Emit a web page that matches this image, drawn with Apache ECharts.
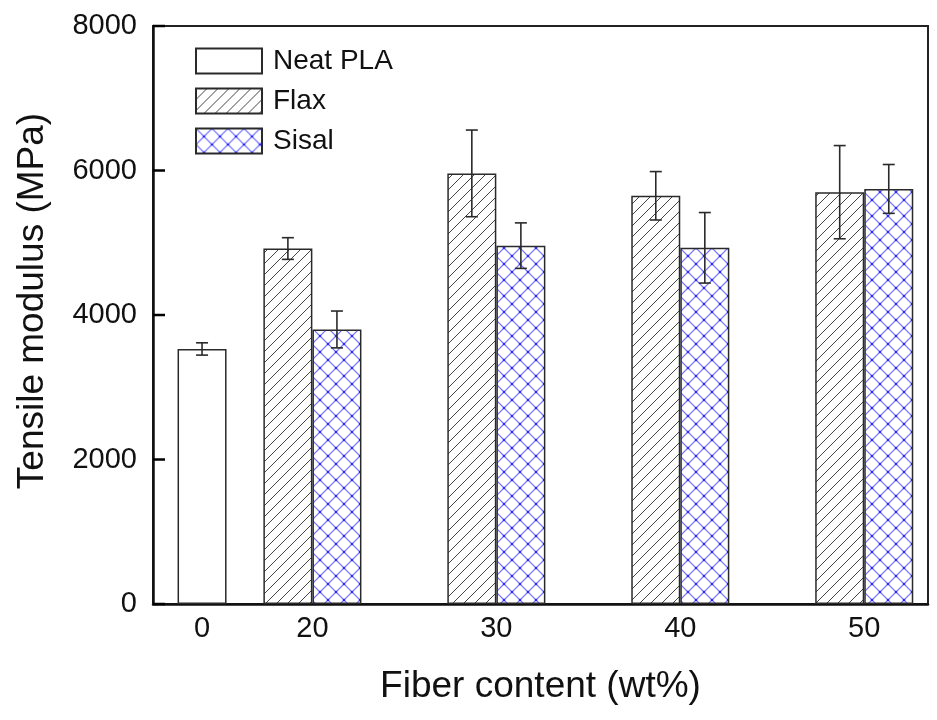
<!DOCTYPE html>
<html>
<head>
<meta charset="utf-8">
<script src="https://cdn.jsdelivr.net/npm/echarts@6/dist/echarts.min.js"></script>
<style>
  html, body { margin: 0; padding: 0; background: #fff; }
  #chart { width: 937px; height: 720px; }
</style>
</head>
<body>
<div id="chart"></div>
<script>
// Tensile modulus (MPa) by fiber content (wt%)
const categories = ['0', '20', '30', '40', '50'];
const neatPLA    = [3530, null, null, null, null];
const neatPLAErr = [85,   null, null, null, null];
const flax       = [null, 4920, 5960, 5650, 5700];
const flaxErr    = [null, 150,  600,  335,  645];
const sisal      = [null, 3800, 4960, 4930, 5745];
const sisalErr   = [null, 255,  315,  488,  338];
const yTicks     = [0, 2000, 4000, 6000, 8000];

// Horizontal layout on a value axis: one unit equals one bar width
const groupCenters = [1, 3.25, 7, 10.75, 14.5];
const xSpan = 15.8;
const FONT = '"Liberation Sans", Arial, Helvetica, sans-serif';

// Repeating fill tiles for the hatched bars
function hatchTile(size, stroke, width, dirs, dot) {
  const c = document.createElement('canvas');
  c.width = c.height = size;
  const g = c.getContext('2d');
  g.fillStyle = '#fff';
  g.fillRect(0, 0, size, size);
  g.strokeStyle = stroke;
  g.lineWidth = width;
  for (const d of dirs) {
    for (let k = -1; k <= 1; k++) {
      g.beginPath();
      if (d === '/') { g.moveTo(k * size, size); g.lineTo(k * size + size, 0); }
      else { g.moveTo(k * size, 0); g.lineTo(k * size + size, size); }
      g.stroke();
    }
  }
  if (dot) {
    g.fillStyle = dot;
    const pts = [[size / 2, size / 2], [0, 0], [size, 0], [0, size], [size, size]];
    for (const [x, y] of pts) { g.beginPath(); g.arc(x, y, 1.3, 0, Math.PI * 2); g.fill(); }
  }
  return { image: c, repeat: 'repeat' };
}
const flaxFill  = hatchTile(11, '#444', 1, ['/']);
const sisalFill = hatchTile(16, 'rgba(70,70,255,0.8)', 1.2, ['/', '\\'], '#2a2aff');

function barData(values, offset) {
  const out = [];
  values.forEach((v, i) => { if (v != null) out.push([groupCenters[i] + offset, v]); });
  return out;
}
function errData(values, errs, offset) {
  const out = [];
  values.forEach((v, i) => {
    if (v != null) out.push([groupCenters[i] + offset, v - errs[i], v + errs[i]]);
  });
  return out;
}

const barStyle = (color) => ({ color: color, borderColor: '#2a2a2a', borderWidth: 1.5 });

const chart = echarts.init(document.getElementById('chart'), null, { renderer: 'canvas' });
chart.setOption({
  animation: false,
  backgroundColor: '#fff',
  grid: {
    left: 153, right: 9, top: 26, bottom: 116,
    show: true, borderColor: '#222', borderWidth: 2, backgroundColor: 'transparent'
  },
  legend: {
    orient: 'vertical',
    left: 195, top: 47,
    itemWidth: 66, itemHeight: 25, itemGap: 12,
    icon: 'rect',
    padding: 0,
    data: ['Neat PLA', 'Flax', 'Sisal'],
    textStyle: { fontSize: 28, color: '#111', fontFamily: FONT, padding: [0, 0, 0, 6] }
  },
  xAxis: {
    type: 'value',
    min: 0, max: xSpan,
    name: 'Fiber content (wt%)',
    nameLocation: 'middle',
    nameGap: 64,
    nameTextStyle: { fontSize: 37, color: '#111', fontFamily: FONT },
    axisLine: { show: true, onZero: false, lineStyle: { color: '#111', width: 2.5 } },
    axisTick: { show: false },
    splitLine: { show: false },
    axisLabel: {
      customValues: groupCenters,
      formatter: (v) => {
        const i = groupCenters.findIndex(c => Math.abs(c - v) < 1e-6);
        return i >= 0 ? categories[i] : '';
      },
      fontSize: 29, color: '#111', fontFamily: FONT, margin: 10
    }
  },
  yAxis: {
    type: 'value',
    min: yTicks[0], max: yTicks[yTicks.length - 1], interval: yTicks[1] - yTicks[0],
    name: 'Tensile modulus (MPa)',
    nameLocation: 'middle',
    nameGap: 102,
    nameTextStyle: { fontSize: 37, color: '#111', fontFamily: FONT, padding: [0, 0, 0, 28] },
    axisLine: { show: true, onZero: false, lineStyle: { color: '#111', width: 2.5 } },
    axisTick: { show: false },
    splitLine: { show: false },
    axisLabel: {
      fontSize: 29, color: '#111', fontFamily: FONT, margin: 16,
      formatter: (v) => String(v)
    }
  },
  series: [
    { name: 'Neat PLA', type: 'bar', barWidth: 49, barGap: '-100%',
      itemStyle: barStyle('#fff'), data: barData(neatPLA, 0) },
    { name: 'Flax', type: 'bar', barWidth: 49, barGap: '-100%',
      itemStyle: barStyle(flaxFill), data: barData(flax, -0.5) },
    { name: 'Sisal', type: 'bar', barWidth: 49, barGap: '-100%',
      itemStyle: barStyle(sisalFill), data: barData(sisal, 0.5) },
    {
      // error bars: vertical whisker with a cap at each end
      name: 'error', type: 'custom', z: 10,
      data: [].concat(
        errData(neatPLA, neatPLAErr, 0),
        errData(flax, flaxErr, -0.5),
        errData(sisal, sisalErr, 0.5)
      ),
      renderItem: (params, api) => {
        const x = api.value(0);
        const top = api.coord([x, api.value(2)]);
        const bot = api.coord([x, api.value(1)]);
        const w = 6;
        const st = { stroke: '#2a2a2a', lineWidth: 1.6 };
        return {
          type: 'group',
          children: [
            { type: 'line', shape: { x1: top[0], y1: top[1], x2: bot[0], y2: bot[1] }, style: st },
            { type: 'line', shape: { x1: top[0] - w, y1: top[1], x2: top[0] + w, y2: top[1] }, style: st },
            { type: 'line', shape: { x1: bot[0] - w, y1: bot[1], x2: bot[0] + w, y2: bot[1] }, style: st }
          ]
        };
      }
    },
    {
      // inward tick marks on the left axis at each labelled value
      name: 'yticks', type: 'custom', z: 11, silent: true,
      data: yTicks.map(v => [0, v]),
      renderItem: (params, api) => {
        const p = api.coord([api.value(0), api.value(1)]);
        return {
          type: 'line',
          shape: { x1: p[0], y1: p[1], x2: p[0] + 12, y2: p[1] },
          style: { stroke: '#000', lineWidth: 2.5 }
        };
      }
    }
  ]
});
</script>
</body>
</html>
